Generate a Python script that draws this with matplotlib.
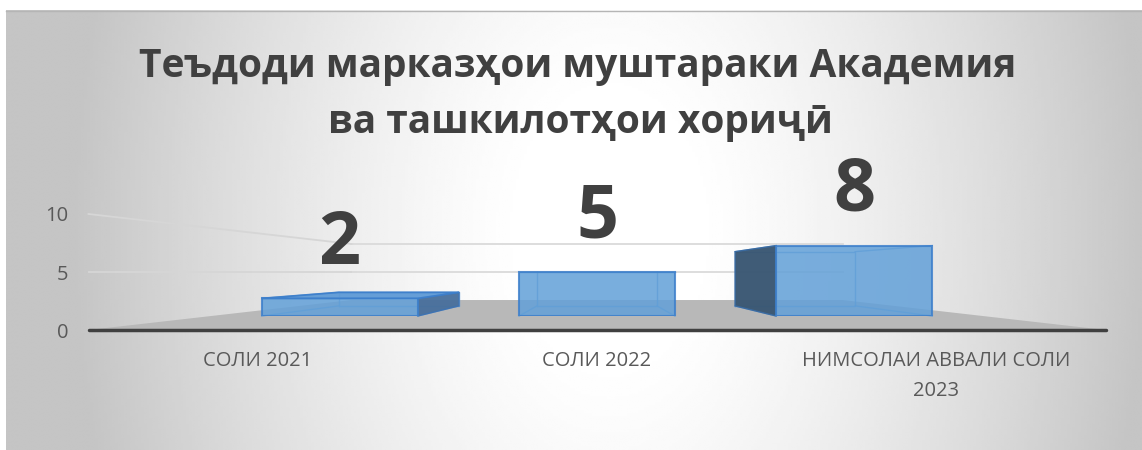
import numpy as np
import matplotlib
matplotlib.use("Agg")
import matplotlib.pyplot as plt
from matplotlib.patches import Polygon

plt.rcParams["font.family"] = ["Open Sans", "DejaVu Sans"]

# chart data
categories = ["СОЛИ 2021", "СОЛИ 2022", "НИМСОЛАИ АВВАЛИ СОЛИ\n2023"]
values = [2, 5, 8]
y_ticks = [0, 5, 10]
title_lines = ["Теъдоди марказҳои муштараки Академия", "ва ташкилотҳои хориҷӣ"]

W, H = 1142, 450
TEXT = "#404040"
LABEL = "#595959"

# fake 3D: every plane is the front plane scaled toward a vanishing point
VP_PX = (597, 272)                      # pixels from top-left
FRONT = (88.5, 1105.5, 330, 214)        # left, right, bottom, top of the front plane
BAR_FRONT = 0.759                       # bar front faces
BAR_DEPTH = 0.77                        # bar back faces, relative to the bar front
BACK_WALL = 0.483                       # back wall / floor back edge
XLIM = (-0.5, len(categories) - 0.5)
YLIM = (0, 10)
BAR_W = 0.606


def plane_box(f):
    l, r, b, t = FRONT
    l = VP_PX[0] + f * (l - VP_PX[0])
    r = VP_PX[0] + f * (r - VP_PX[0])
    b = VP_PX[1] + f * (b - VP_PX[1])
    t = VP_PX[1] + f * (t - VP_PX[1])
    return [l / W, 1 - b / H, (r - l) / W, (b - t) / H]


# vanishing point in data coords (same for every plane)
vx = XLIM[0] + (VP_PX[0] - FRONT[0]) / (FRONT[1] - FRONT[0]) * (XLIM[1] - XLIM[0])
vy = YLIM[0] + (FRONT[2] - VP_PX[1]) / (FRONT[2] - FRONT[3]) * (YLIM[1] - YLIM[0])


def toward_vp(x, y, f):
    return vx + f * (x - vx), vy + f * (y - vy)


fig = plt.figure(figsize=(W / 100, H / 100), dpi=100)

# background gradient
bg = fig.add_axes([0, 0, 1, 1])
bg.set_xlim(0, W)
bg.set_ylim(H, 0)
bg.axis("off")
gx, gy = np.meshgrid(np.linspace(6, W, 400), np.linspace(10, H, 160))
d = np.sqrt(((gx - 610) / 540) ** 2 + ((gy - 230) / 800) ** 2)
shade = 1 - 0.23 * np.clip((d - 0.15) / 0.85, 0, 1) ** 1.3
bg.imshow(shade, cmap="gray", vmin=0, vmax=1, extent=(6, W, H, 10), aspect="auto", interpolation="bilinear")
bg.plot([6, W], [10.5, 10.5], color="#b5b5b5", lw=1)

# front plane: axis line, tick labels, floor, walls
ax_f = fig.add_axes(plane_box(1.0))
ax_f.set_facecolor("none")
ax_f.set_xlim(*XLIM)
ax_f.set_ylim(*YLIM)
for s in ["top", "left", "right"]:
    ax_f.spines[s].set_visible(False)
ax_f.spines["bottom"].set_color(TEXT)
ax_f.spines["bottom"].set_linewidth(2.5)
ax_f.spines["bottom"].set_capstyle("round")
ax_f.set_xticks(range(len(categories)))
ax_f.set_xticklabels(categories, fontsize=14.5, color=LABEL, linespacing=1.7)
ax_f.set_yticks(y_ticks)
ax_f.set_yticklabels([str(t) for t in y_ticks], fontsize=14.5, color=LABEL)
ax_f.tick_params(axis="x", length=0, pad=15)
ax_f.tick_params(axis="y", length=0, pad=14.5)

floor = [(XLIM[0], 0), (XLIM[1], 0), toward_vp(XLIM[1], 0, BACK_WALL), toward_vp(XLIM[0], 0, BACK_WALL)]
ax_f.add_patch(Polygon(floor, closed=True, facecolor="#b8b8b8", edgecolor="none", zorder=1, clip_on=False))
for v in y_ticks[1:]:
    bl = toward_vp(XLIM[0], v, BACK_WALL)
    br = toward_vp(XLIM[1], v, BACK_WALL)
    ax_f.plot([bl[0], br[0]], [bl[1], br[1]], color="#dadada", lw=1.3, zorder=0.5, clip_on=False)
    ax_f.plot([XLIM[0], bl[0]], [v, bl[1]], color="#d6d6d6", lw=1.3, zorder=0.5, clip_on=False)

# bar front plane
ax = fig.add_axes(plane_box(BAR_FRONT))
ax.set_facecolor("none")
ax.set_xlim(*XLIM)
ax.set_ylim(*YLIM)
ax.axis("off")

for i, v in enumerate(values):
    l, r = i - BAR_W / 2, i + BAR_W / 2
    fl0, fl1, fr0, fr1 = (l, 0), (l, v), (r, 0), (r, v)
    bl0, bl1, br0, br1 = [toward_vp(px, py, BAR_DEPTH) for px, py in (fl0, fl1, fr0, fr1)]
    # back edges, seen through the front
    back = [bl0, br0, br1, bl1, bl0]
    ax.plot([p[0] for p in back], [p[1] for p in back], color="#5a97d6", lw=1, alpha=0.8, zorder=2, clip_on=False)
    for a, b in [(fl0, bl0), (fr0, br0), (fl1, bl1), (fr1, br1)]:
        ax.plot([a[0], b[0]], [a[1], b[1]], color="#5a97d6", lw=1, alpha=0.8, zorder=2, clip_on=False)
    if r < vx:
        ax.add_patch(Polygon([fr0, fr1, br1, br0], facecolor="#476f9c", edgecolor="#3f72b0",
                             lw=1, alpha=0.95, zorder=2.5, clip_on=False))
    if l > vx:
        ax.add_patch(Polygon([fl0, fl1, bl1, bl0], facecolor="#3a5773", edgecolor="#3a6aa0",
                             lw=1, alpha=0.97, zorder=2.5, clip_on=False))
    if v < vy:
        ax.add_patch(Polygon([fl1, fr1, br1, bl1], facecolor="#5e9ad6", edgecolor="#3d7fcb",
                             lw=1.3, alpha=0.95, zorder=4, clip_on=False))

ax.bar(range(len(values)), values, width=BAR_W, color="#62a0d8", alpha=0.85,
       edgecolor="#3d7fcb", linewidth=1.5, zorder=3)

for i, v in enumerate(values):
    ax.annotate(str(v), xy=(i, v), xytext=(0, 25), textcoords="offset points",
                ha="center", va="baseline", fontsize=53, fontweight="bold", color=TEXT,
                annotation_clip=False)

# title
fig.text(578 / W, 1 - 77 / H, title_lines[0], ha="center", va="baseline",
         fontsize=28, fontweight="bold", color=TEXT)
fig.text(580 / W, 1 - 133 / H, title_lines[1], ha="center", va="baseline",
         fontsize=28, fontweight="bold", color=TEXT)

fig.savefig("out.png", dpi=100)
